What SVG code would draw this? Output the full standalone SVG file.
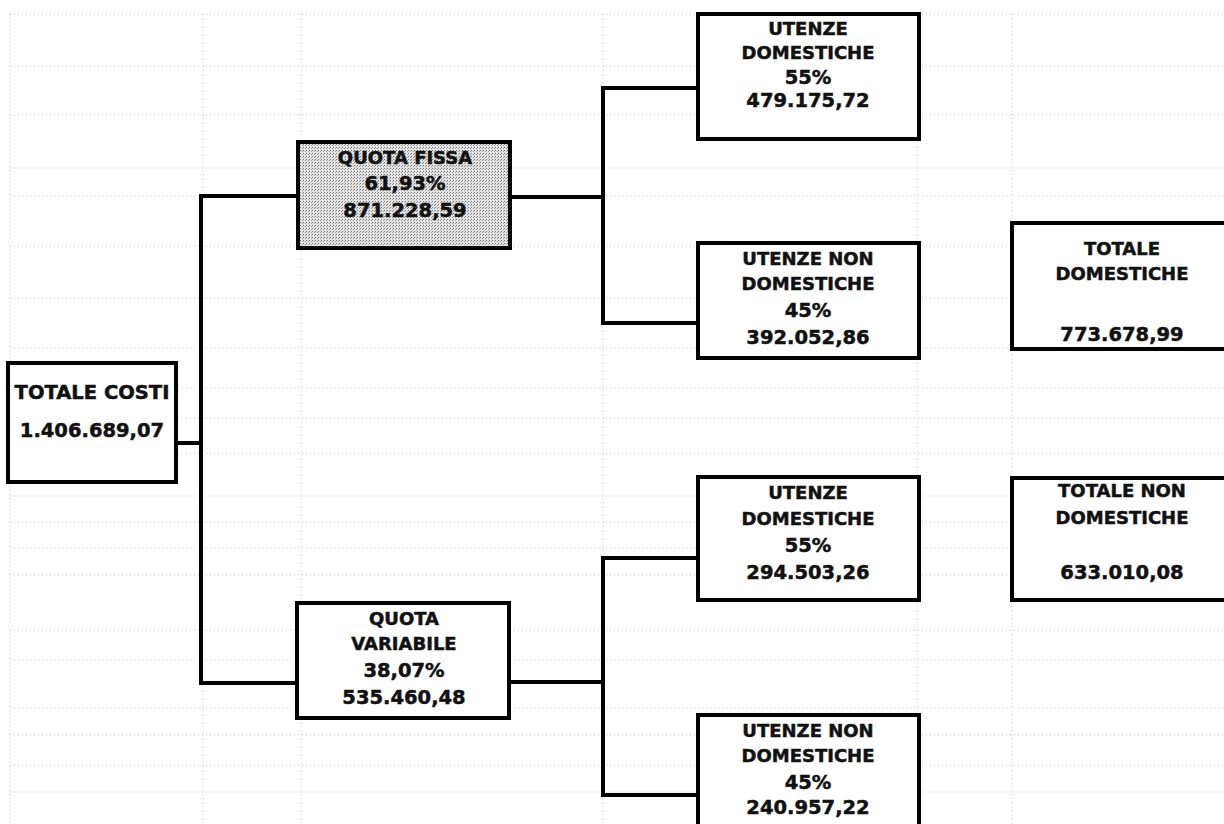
<svg xmlns="http://www.w3.org/2000/svg" width="1224" height="824" viewBox="0 0 1224 824">
<style>
.grid line{stroke:#c4c4c4;stroke-width:1;stroke-dasharray:1 3}
.box{fill:#fff;stroke:#000;stroke-width:4}
.shaded{fill:url(#dots);stroke:#000;stroke-width:4}
.conn{fill:none;stroke:#000;stroke-width:4;stroke-linecap:square}
text{font-family:"DejaVu Sans","Verdana",sans-serif;font-weight:bold;font-size:18px;fill:#111;stroke:#111;stroke-width:0.5;text-anchor:middle;dominant-baseline:central}
text.n{font-size:19.5px}
</style>
<defs>
<pattern id="dots" width="3" height="3" patternUnits="userSpaceOnUse">
<rect width="3" height="3" fill="#e2e2e2"/>
<rect x="0" y="0" width="1" height="1" fill="#777"/>
<rect x="2" y="1" width="1" height="1" fill="#999"/>
</pattern>
</defs>
<rect width="1224" height="824" fill="#fff"/>
<g class="grid">
<line x1="10" y1="14" x2="1224" y2="14"/>
<line x1="10" y1="66" x2="1224" y2="66"/>
<line x1="10" y1="115" x2="1224" y2="115"/>
<line x1="10" y1="168" x2="1224" y2="168"/>
<line x1="10" y1="196" x2="1224" y2="196"/>
<line x1="10" y1="246" x2="1224" y2="246"/>
<line x1="10" y1="298" x2="1224" y2="298"/>
<line x1="10" y1="348" x2="1224" y2="348"/>
<line x1="10" y1="388" x2="1224" y2="388"/>
<line x1="10" y1="418" x2="1224" y2="418"/>
<line x1="10" y1="453" x2="1224" y2="453"/>
<line x1="10" y1="496" x2="1224" y2="496"/>
<line x1="10" y1="522" x2="1224" y2="522"/>
<line x1="10" y1="548" x2="1224" y2="548"/>
<line x1="10" y1="575" x2="1224" y2="575"/>
<line x1="10" y1="630" x2="1224" y2="630"/>
<line x1="10" y1="660" x2="1224" y2="660"/>
<line x1="10" y1="708" x2="1224" y2="708"/>
<line x1="10" y1="735" x2="1224" y2="735"/>
<line x1="10" y1="765" x2="1224" y2="765"/>
<line x1="10" y1="792" x2="1224" y2="792"/>
<line x1="10" y1="14" x2="10" y2="824"/>
<line x1="203" y1="14" x2="203" y2="824"/>
<line x1="301" y1="14" x2="301" y2="824"/>
<line x1="603" y1="14" x2="603" y2="824"/>
<line x1="917" y1="14" x2="917" y2="824"/>
<line x1="1012" y1="14" x2="1012" y2="824"/>
</g>
<g id="connectors">
<path class="conn" d="M176 443 H201"/>
<path class="conn" d="M201 196 V683"/>
<path class="conn" d="M201 196 H298"/>
<path class="conn" d="M201 683 H297"/>
<path class="conn" d="M510 197 H603"/>
<path class="conn" d="M603 88 V323"/>
<path class="conn" d="M603 88 H698"/>
<path class="conn" d="M603 323 H698"/>
<path class="conn" d="M509 682 H603"/>
<path class="conn" d="M603 558 V795"/>
<path class="conn" d="M603 558 H698"/>
<path class="conn" d="M603 795 H698"/>
</g>
<g id="totale-costi">
<rect class="box" x="8" y="363" width="168" height="119"/>
<text x="92" y="392" style="font-size:19.5px">TOTALE COSTI</text>
<text class="n" x="92" y="430">1.406.689,07</text>
</g>
<g id="quota-fissa">
<rect class="shaded" x="298" y="142" width="212" height="106"/>
<text x="405" y="157">QUOTA FISSA</text>
<text class="n" x="405" y="183">61,93%</text>
<text class="n" x="405" y="210">871.228,59</text>
</g>
<g id="quota-variabile">
<rect class="box" x="297" y="603" width="212" height="115"/>
<text x="404" y="618">QUOTA</text>
<text x="404" y="643">VARIABILE</text>
<text class="n" x="404" y="670">38,07%</text>
<text class="n" x="404" y="697">535.460,48</text>
</g>
<g id="fissa-domestiche">
<rect class="box" x="698" y="14" width="221" height="125"/>
<text x="808" y="28">UTENZE</text>
<text x="808" y="52">DOMESTICHE</text>
<text class="n" x="808" y="77">55%</text>
<text class="n" x="808" y="100">479.175,72</text>
</g>
<g id="fissa-non-domestiche">
<rect class="box" x="698" y="243" width="221" height="115"/>
<text x="808" y="258">UTENZE NON</text>
<text x="808" y="283">DOMESTICHE</text>
<text class="n" x="808" y="310">45%</text>
<text class="n" x="808" y="337">392.052,86</text>
</g>
<g id="variabile-domestiche">
<rect class="box" x="698" y="477" width="221" height="123"/>
<text x="808" y="492">UTENZE</text>
<text x="808" y="518">DOMESTICHE</text>
<text class="n" x="808" y="545">55%</text>
<text class="n" x="808" y="572">294.503,26</text>
</g>
<g id="variabile-non-domestiche">
<rect class="box" x="698" y="715" width="221" height="130"/>
<text x="808" y="730">UTENZE NON</text>
<text x="808" y="755">DOMESTICHE</text>
<text class="n" x="808" y="782">45%</text>
<text class="n" x="808" y="807">240.957,22</text>
</g>
<g id="totale-domestiche">
<rect class="box" x="1012" y="223" width="230" height="126"/>
<text x="1122" y="248">TOTALE</text>
<text x="1122" y="273">DOMESTICHE</text>
<text class="n" x="1122" y="334">773.678,99</text>
</g>
<g id="totale-non-domestiche">
<rect class="box" x="1012" y="478" width="230" height="122"/>
<text x="1122" y="490">TOTALE NON</text>
<text x="1122" y="517">DOMESTICHE</text>
<text class="n" x="1122" y="572">633.010,08</text>
</g>
</svg>
